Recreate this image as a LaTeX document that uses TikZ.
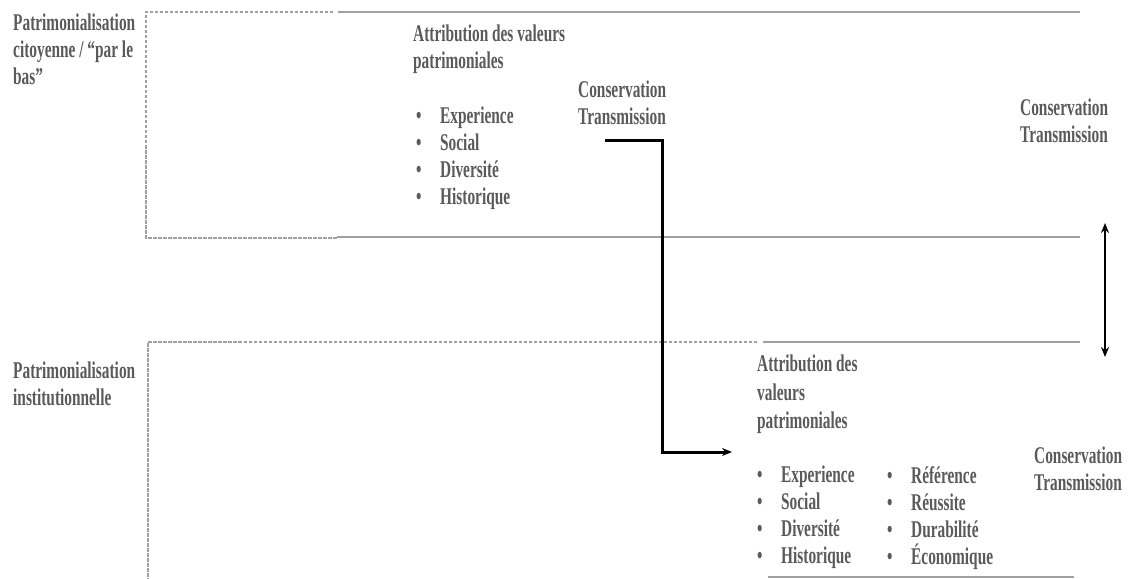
\documentclass[tikz,border=0pt]{standalone}
\usepackage{fontspec}
\setmainfont[FakeStretch=0.64]{Liberation Serif}
\usepackage{tikz}
\usetikzlibrary{arrows.meta,positioning}
\definecolor{textgris}{RGB}{90,90,90}
\definecolor{traitgris}{RGB}{160,160,160}
\newcommand{\puce}{\makebox[24bp][l]{\textbullet}}

\begin{document}
\begin{tikzpicture}[x=1bp,y=-1bp,>={Stealth[length=10bp,width=8bp]},
    texte/.style={text=textgris, font=\bfseries\fontsize{24bp}{27bp}\selectfont,
      align=left, anchor=north west, inner sep=0pt},
    cadre/.style={traitgris, line width=1.6bp},
    pointille/.style={cadre, line width=1.3bp, dash pattern=on 3.5bp off 1.5bp},
    fleche/.style={black, line width=3bp}]
    \useasboundingbox (0,0) rectangle (1131,579);

    % Cadre du haut
    \draw[pointille] (333,12) -- (146,12) -- (146,238) -- (337,238);
    \draw[cadre] (338,12) -- (1080,12);
    \draw[cadre] (337,237) -- (1080,237);

    % Cadre du bas
    \draw[pointille] (757,342) -- (148,342) -- (148,579);
    \draw[cadre] (763,342) -- (1080,342);
    \draw[cadre] (768,577) -- (1074,577);

    % Patrimonialisation citoyenne
    \node[texte] (citoyenne) at (13,14) {Patrimonialisation\\citoyenne / “par le\\bas”};
    \node[texte] (attribHaut) at (413,25) {Attribution des valeurs\\patrimoniales};
    \node[texte] (valeursHaut) at (416,107)
        {\puce Experience\\\puce Social\\\puce Diversité\\\puce Historique};
    \node[texte] (consHaut) at (578,81) {Conservation\\Transmission};
    \node[texte] (consDroite) at (1020,99) {Conservation\\Transmission};

    % Patrimonialisation institutionnelle
    \node[texte] (institution) at (13,362) {Patrimonialisation\\institutionnelle};
    \node[texte] (attribBas) at (757,355) {Attribution des\\[1.5bp]valeurs\\[1.5bp]patrimoniales};
    \node[texte] (valeursBas) at (757,466)
        {\puce Experience\\\puce Social\\\puce Diversité\\\puce Historique};
    \node[texte] (valeursBas2) at (887,466)
        {\puce Référence\\\puce Réussite\\\puce Durabilité\\\puce Économique};
    \node[texte] (consBas) at (1034,447) {Conservation\\Transmission};

    % Passage du haut vers le bas
    \coordinate (depart) at (605,141);
    \coordinate (coude) at (662,452);
    \coordinate (arrivee) at (732,452);
    \draw[fleche, ->] (depart) -| (coude) -- (arrivee);

    % Double fleche a droite
    \coordinate (flecheHaut) at (1105,223);
    \coordinate (flecheBas) at (1105,357);
    \draw[fleche, line width=2.4bp, <->] (flecheHaut) -- (flecheBas);
\end{tikzpicture}
\end{document}
